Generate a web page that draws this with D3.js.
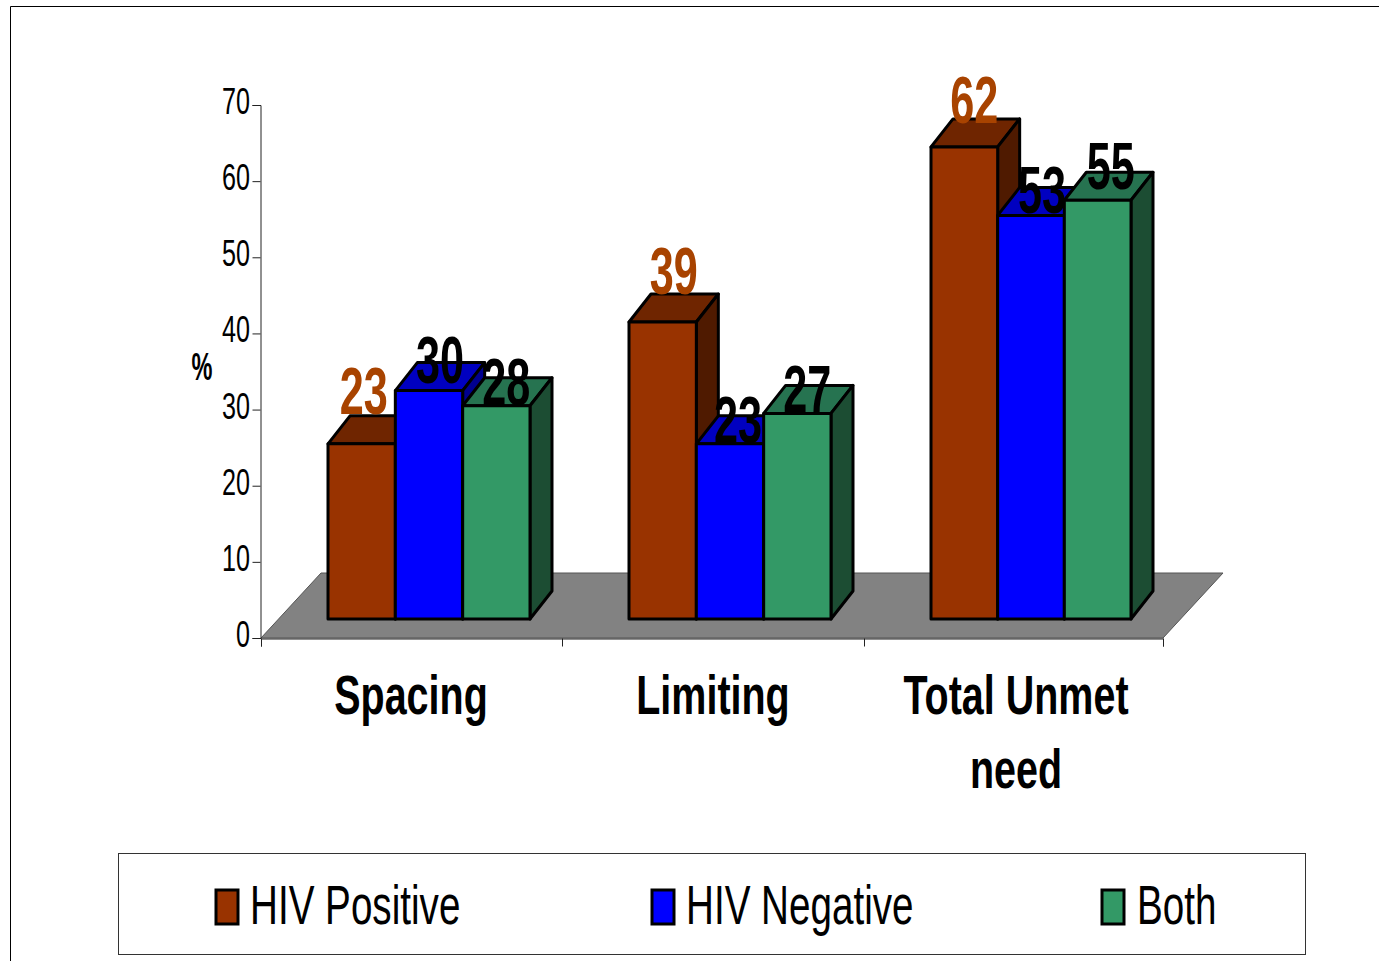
<!DOCTYPE html>
<html><head><meta charset="utf-8">
<script src="https://cdn.jsdelivr.net/npm/d3@7/dist/d3.min.js"></script>
<style>html,body{margin:0;padding:0;background:#fff;overflow:hidden}svg{display:block}text{font-family:"Liberation Sans",Arial,sans-serif}</style>
</head><body><svg id="c" width="1379" height="961"></svg>
<script>
const categories = [["Spacing"], ["Limiting"], ["Total Unmet", "need"]];
const seriesNames = ["HIV Positive", "HIV Negative", "Both"];
const hivPositive = [23, 39, 62];
const hivNegative = [30, 23, 53];
const both = [28, 27, 55];
const yTicks = [0, 10, 20, 30, 40, 50, 60, 70];

// layout / style (kept apart from the data)
const seriesValues = [hivPositive, hivNegative, both];
const frontColors = ["#993300", "#0000ff", "#339966"];
const topColors = ["#6f2500", "#0000c0", "#267350"];
const sideColors = ["#4f1a00", "#000090", "#1c4d33"];
const labelColors = ["#a84300", "#000", "#000"];
// hand-placed label nudges in the original: [series][category] = [dx, dy from bar top]
const labelNudge = [
  [[2, -30], [11, -28], [10, -24]],
  [[11, -8], [8, -1], [11, -2]],
  [[10, -1], [10, -1], [13, -11]]
];
const svg = d3.select("#c");
const x0 = 261, x1 = 1163, yBase = 638, yTop = 105;
const depthX = 60, depthY = -65, floorLift = 19, barDX = 22, barDY = -28;

const y = d3.scaleLinear().domain([0, 70]).range([yBase, yTop]);
const xGroup = d3.scaleLinear().domain([0, 1, 2, 3]).range([x0, 562, 864, x1]);
const groupEnd = [269, 269, 267];
const inner = ci => d3.scaleBand().domain(d3.range(seriesNames.length)).range([67, groupEnd[ci]]);

// condensed text helper
function ctext(g, str, cx, baseline, size, sx, weight, fill, anchor) {
  return g.append("text").text(str)
    .attr("transform", `translate(${cx},${baseline}) scale(${sx},1)`)
    .attr("text-anchor", anchor || "middle")
    .attr("font-size", size).attr("font-weight", weight || "normal")
    .attr("fill", fill || "#000");
}

// page frame
svg.append("path").attr("d", "M10.5,961V6.5H1379").attr("fill", "none").attr("stroke", "#000").attr("stroke-width", 1);

// floor
svg.append("path")
  .attr("d", d3.line()([[x0, yBase], [x0 + depthX, yBase + depthY], [x1 + depthX, yBase + depthY], [x1, yBase]]) + "Z")
  .attr("fill", "#828282").attr("stroke", "#555").attr("stroke-width", 1);

// y axis
const axisY = svg.append("g").attr("transform", `translate(${x0 - .5},0)`)
  .call(d3.axisLeft(y).tickValues(yTicks).tickSize(8).tickFormat(""));
axisY.selectAll("path,line").attr("stroke", "#222").attr("stroke-width", 1);
yTicks.forEach(t => ctext(svg, String(t), 250, y(t) + 9, 37, 0.68, "normal", "#000", "end"));

// x axis
const axisX = svg.append("g").attr("transform", `translate(0,${yBase + .5})`)
  .call(d3.axisBottom(xGroup).tickValues([0, 1, 2, 3]).tickSize(8).tickFormat(""));
axisX.selectAll("path,line").attr("stroke", "#222").attr("stroke-width", 1);

// bars
const yBar = v => y(v) - floorLift;
const barStroke = { stroke: "#000", "stroke-width": 3, "stroke-linejoin": "round" };
const applyStroke = s => Object.entries(barStroke).forEach(([k, v]) => s.attr(k, v));
categories.forEach((c, ci) => {
  const band = inner(ci);
  seriesNames.forEach((n, si) => {
    const v = seriesValues[si][ci];
    const xl = xGroup(ci) + band(si), w = band.bandwidth();
    const t = yBar(v), b = yBar(0);
    const g = svg.append("g");
    applyStroke(g.append("path").attr("fill", topColors[si])
      .attr("d", d3.line()([[xl, t], [xl + barDX, t + barDY], [xl + w + barDX, t + barDY], [xl + w, t]]) + "Z"));
    applyStroke(g.append("path").attr("fill", sideColors[si])
      .attr("d", d3.line()([[xl + w, t], [xl + w + barDX, t + barDY], [xl + w + barDX, b + barDY], [xl + w, b]]) + "Z"));
    applyStroke(g.append("rect").attr("x", xl).attr("y", t).attr("width", w).attr("height", b - t).attr("fill", frontColors[si]));
  });
});

// value labels
categories.forEach((c, ci) => {
  const band = inner(ci);
  seriesNames.forEach((n, si) => {
    const v = seriesValues[si][ci];
    const cx = xGroup(ci) + band(si) + band.bandwidth() / 2 + labelNudge[si][ci][0];
    ctext(svg, String(v), cx, yBar(v) + labelNudge[si][ci][1], 66, 0.655, "bold", labelColors[si]);
  });
});

// axis title
ctext(svg, "%", 202, 380, 38, 0.62, "bold");

// category labels
const categoryCentres = [411, 713, 1016];
categories.forEach((lines, ci) => {
  lines.forEach((l, li) => {
    ctext(svg, l, categoryCentres[ci], 714 + li * 74, 56, 0.705, "bold");
  });
});

// legend
svg.append("rect").attr("x", 118.5).attr("y", 853.5).attr("width", 1187).attr("height", 101)
  .attr("fill", "#fff").attr("stroke", "#333").attr("stroke-width", 1);
const legendSwatchX = [216, 652, 1102], legendTextX = [250, 686, 1137];
seriesNames.forEach((n, i) => {
  svg.append("rect").attr("x", legendSwatchX[i]).attr("y", 890).attr("width", 22).attr("height", 34)
    .attr("fill", frontColors[i]).attr("stroke", "#000").attr("stroke-width", 3);
  ctext(svg, n, legendTextX[i], 924, 56, 0.69, "normal", "#000", "start");
});
</script></body></html>
